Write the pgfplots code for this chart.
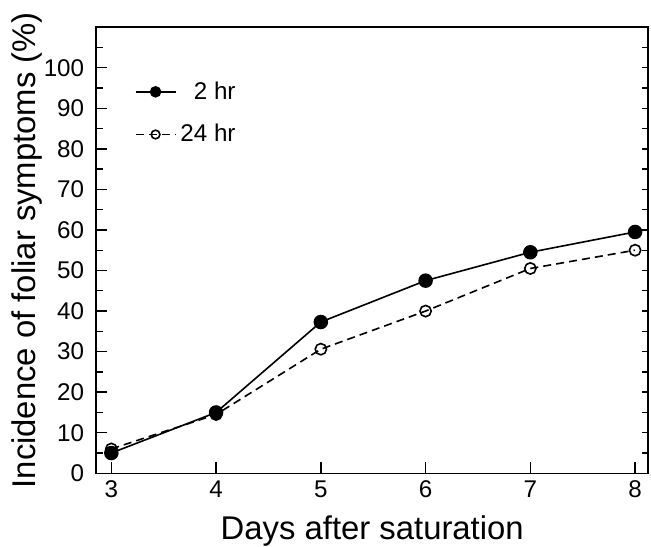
\documentclass[border={6pt 0pt 1pt 6pt}]{standalone}
\usepackage{fontspec}
\setmainfont{Liberation Sans}
\usepackage{pgfplots}
\pgfplotsset{compat=1.18}

\begin{document}
\begin{tikzpicture}
\begin{axis}[
  scale only axis,
  width=274pt, height=221.5pt,
  xmin=2.856, xmax=8.125,
  ymin=0, ymax=110,
  xtick={3,4,5,6,7,8},
  ytick={0,10,...,100},
  minor ytick={5,15,...,105},
  xtick pos=bottom,
  ytick pos=left,
  tick align=inside,
  major tick length=5.5pt,
  minor tick length=3.5pt,
  tick style={black, line width=0.7pt},
  axis line style={line width=0.8pt},
  /pgf/number format/assume math mode=true,
  ticklabel style={font=\fontsize{12}{14}\selectfont},
  yticklabel style={xshift=-2.5pt},
  xlabel={Days after saturation},
  ylabel={Incidence of foliar symptoms (\%)},
  label style={font=\fontsize{16.3}{19}\selectfont, inner sep=0pt},
  xlabel style={yshift=-5.5pt},
  ylabel style={yshift=-3pt},
  legend style={draw=none, fill=none, at={(0.058,0.897)}, anchor=north west,
    font=\fontsize{12}{14}\selectfont, row sep=7pt},
  legend cell align=left,
  legend image code/.code={
    \draw[mark repeat=2, mark phase=2, every mark/.append style={scale=0.77}]
      plot coordinates {(0cm,0cm) (0.35cm,0cm) (0.7cm,0cm)};
  },
]
\addplot[black, line width=0.8pt, mark=*, mark size=3.2pt, mark options={solid, fill=black}]
  coordinates {(3,5)(4,15)(5,37.3)(6,47.5)(7,54.5)(8,59.5)};
\addplot[black, line width=0.8pt, dash pattern=on 4pt off 2.5pt, mark=o, mark size=2.8pt, mark options={solid, fill=white}]
  coordinates {(3,6)(4,14.5)(5,30.6)(6,40)(7,50.5)(8,55)};
\legend{\ \ 2 hr, 24 hr}
\end{axis}
% right-hand ticks: every 5 units, all the same length
\begin{axis}[
  overlay,
  scale only axis,
  width=274pt, height=221.5pt,
  xmin=2.856, xmax=8.125,
  ymin=0, ymax=110,
  hide x axis,
  axis y line*=right,
  axis line style={line width=0.8pt, -},
  ytick={0,5,...,105},
  yticklabels={},
  tick align=inside,
  major tick length=3pt,
  tick style={black, line width=0.7pt},
]
\end{axis}
\end{tikzpicture}
\end{document}
